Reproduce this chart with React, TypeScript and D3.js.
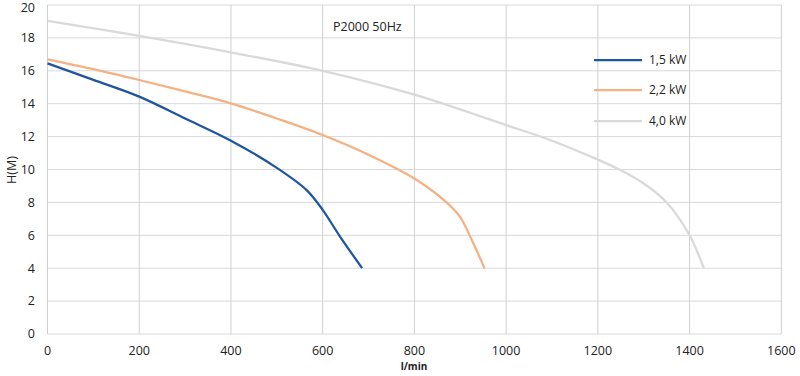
import React from "react";
import * as d3 from "d3";

const xTicks = [0, 200, 400, 600, 800, 1000, 1200, 1400, 1600];
const yTicks = [0, 2, 4, 6, 8, 10, 12, 14, 16, 18, 20];

const flow15 = [0, 100, 200, 300, 400, 500, 565, 600, 636, 686];
const head15 = [16.45, 15.45, 14.43, 13.1, 11.75, 10.1, 8.75, 7.55, 6.0, 4.0];

const flow22 = [0, 100, 200, 300, 400, 500, 600, 700, 800, 870, 900, 922, 953];
const head22 = [16.7, 16.1, 15.44, 14.75, 14.02, 13.1, 12.1, 10.9, 9.45, 8.0, 7.1, 5.9, 4.0];

const flow40 = [0, 200, 400, 600, 800, 1000, 1100, 1200, 1250, 1300, 1350, 1400, 1431];
const head40 = [19.03, 18.12, 17.12, 16.0, 14.55, 12.7, 11.75, 10.6, 9.95, 9.15, 8.0, 6.0, 4.0];

const seriesNames = ["1,5 kW", "2,2 kW", "4,0 kW"];
const seriesColors = ["#1f56a0", "#f4b183", "#d9d9d9"];
const title = "P2000 50Hz";

const W = 800;
const H = 376;
const left = 47.5;
const right = 781.3;
const top = 5;
const bottom = 334;
const font = "'Open Sans', 'Liberation Sans', sans-serif";

export default function App() {
  const x = d3.scaleLinear().domain([0, 1600]).range([left, right]);
  const y = d3.scaleLinear().domain([0, 20]).range([bottom, top]);
  const line = d3
    .line<[number, number]>()
    .x((d) => x(d[0]))
    .y((d) => y(d[1]))
    .curve(d3.curveCatmullRom.alpha(0.5));

  const series = [
    flow15.map((f, i) => [f, head15[i]] as [number, number]),
    flow22.map((f, i) => [f, head22[i]] as [number, number]),
    flow40.map((f, i) => [f, head40[i]] as [number, number]),
  ];

  const legendY = [60, 90, 121];

  return (
    <svg
      width={W}
      height={H}
      style={{ position: "absolute", left: 0, top: 0, background: "#fff" }}
      fontFamily={font}
    >
      {yTicks.map((t) => (
        <line key={"h" + t} x1={left} x2={right} y1={y(t)} y2={y(t)} stroke="#d9d9d9" strokeWidth={1} />
      ))}
      {xTicks.map((t) => (
        <line key={"v" + t} x1={x(t)} x2={x(t)} y1={top} y2={bottom} stroke="#d0d0d0" strokeWidth={1} />
      ))}
      {yTicks.map((t) => (
        <text key={"yl" + t} x={35} y={Math.max(y(t), 7.5)} dy="0.35em" textAnchor="end" fontSize={12.5} fill="#222">
          {t}
        </text>
      ))}
      {xTicks.map((t) => (
        <text key={"xl" + t} x={x(t)} y={355} textAnchor="middle" fontSize={12.5} fill="#222">
          {t}
        </text>
      ))}
      <text x={414} y={370} textAnchor="middle" fontSize={10} fontWeight="bold" fill="#222">
        l/min
      </text>
      <text
        transform={`translate(16,170) rotate(-90)`}
        textAnchor="middle"
        fontSize={12.5}
        fill="#222"
      >
        H(M)
      </text>
      <text x={333} y={31} fontSize={12.5} fill="#222">
        {title}
      </text>
      {series.map((s, i) => (
        <path key={"s" + i} d={line(s) || ""} fill="none" stroke={seriesColors[i]} strokeWidth={2.25} />
      ))}
      {seriesNames.map((n, i) => (
        <g key={"lg" + i}>
          <line x1={594} x2={642} y1={legendY[i]} y2={legendY[i]} stroke={seriesColors[i]} strokeWidth={2.25} />
          <text x={649} y={legendY[i]} dy="0.35em" fontSize={12} fill="#222">
            {n}
          </text>
        </g>
      ))}
    </svg>
  );
}
